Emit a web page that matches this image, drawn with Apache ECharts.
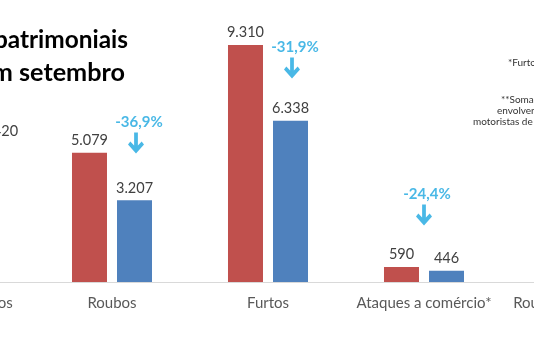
<!DOCTYPE html>
<html>
<head>
<meta charset="utf-8">
<script src="https://cdn.jsdelivr.net/npm/echarts@6/dist/echarts.min.js"></script>
<style>
  html, body { margin: 0; padding: 0; background: #fff; overflow: hidden; width: 534px; height: 352px; position: relative; }
  /* the picture is a crop of a wider chart: the canvas runs past both edges */
  #chart { position: absolute; left: -122px; top: 0; width: 780px; height: 352px; }
</style>
</head>
<body>
<div id="chart"></div>
<script>
// categories (first and last are cut by the picture edge)
const categories = ["Roubos de carros", "Roubos", "Furtos", "Ataques a comércio*", "Roubos a motoristas"];
const setembroAnterior = [8590, 5079, 9310, 590, 310];
const setembroAtual = [5420, 3207, 6338, 446, 220];

// arrows with the drop
const quedaCategorias = ["Roubos", "Furtos", "Ataques a comércio*"];
const quedaTextos = ["-36,9%", "-31,9%", "-24,4%"];
const quedaNiveis = [5460, 8405, 2632];
const quedaDeslocamento = [24, 24, 0];

const chart = echarts.init(document.getElementById("chart"));

const fmt = (v) => String(v).replace(/\B(?=(\d{3})+(?!\d))/g, ".");
const arrowPath = "path://M6.5,0 L10.5,0 L10.5,13 L14.5,9 L17,12 L8.5,21 L0,12 L2.5,9 L6.5,13 Z";
const cyan = "#1BA6E0";
const dx = 122; // canvas offset

const option = {
  backgroundColor: "#fff",
  textStyle: { fontFamily: "Lato" },
  grid: { left: 0, right: 0, top: 27.4, bottom: 70 },
  xAxis: {
    type: "category",
    data: categories,
    axisLine: { lineStyle: { color: "#D9D9D9", width: 1 } },
    axisTick: { show: false },
    axisLabel: { color: "#595959", fontSize: 15, margin: 14, interval: 0, fontFamily: "Lato" },
  },
  yAxis: { type: "value", min: 0, max: 10000, show: false, splitLine: { show: false } },
  series: [
    {
      name: "set/2018",
      type: "bar",
      barWidth: 35,
      barGap: "28.6%",
      itemStyle: { color: "#C0504D" },
      label: { show: true, position: "top", distance: 5, color: "#404040", fontSize: 14.5, formatter: (p) => fmt(p.value) },
      data: setembroAnterior,
    },
    {
      name: "set/2019",
      type: "bar",
      barWidth: 35,
      itemStyle: { color: "#4F81BD" },
      label: { show: true, position: "top", distance: 5, color: "#404040", fontSize: 14.5, formatter: (p) => fmt(p.value) },
      // first label sits a bit to the right in the original
      data: setembroAtual.map((v, i) => (i === 0 ? { value: v, label: { offset: [21, 0] } } : v)),
    },
    {
      type: "scatter",
      silent: true,
      z: 5,
      symbol: arrowPath,
      symbolSize: [16, 21],
      itemStyle: { color: cyan },
      label: {
        show: true,
        position: "top",
        distance: 3,
        offset: [3, 0],
        color: cyan,
        fontSize: 15,
        fontWeight: "bold",
        formatter: (p) => quedaTextos[p.dataIndex],
      },
      data: quedaCategorias.map((c, i) => ({
        value: [c, quedaNiveis[i]],
        symbolOffset: [quedaDeslocamento[i], 0],
      })),
    },
  ],
  graphic: [
    { type: "text", x: dx + 128, y: 40, style: { text: "Crimes patrimoniais", textAlign: "right", textVerticalAlign: "middle", font: "bold 24.4px Lato", fill: "#000" } },
    { type: "text", x: dx + 125, y: 73, style: { text: "caem em setembro", textAlign: "right", textVerticalAlign: "middle", font: "bold 25.2px Lato", fill: "#000" } },
    { type: "text", x: dx + 508, y: 63, style: { text: "*Furtos e roubos a estabelecimentos", textVerticalAlign: "middle", font: "10px Lato", fill: "#333" } },
    { type: "text", x: dx + 501, y: 100, style: { text: "**Soma de roubos", textVerticalAlign: "middle", font: "10px Lato", fill: "#333" } },
    { type: "text", x: dx + 497, y: 111, style: { text: "envolvendo", textVerticalAlign: "middle", font: "10px Lato", fill: "#333" } },
    { type: "text", x: dx + 473, y: 121.5, style: { text: "motoristas de aplicativo", textVerticalAlign: "middle", font: "10px Lato", fill: "#333" } },
  ],
};

chart.setOption(option);
</script>
</body>
</html>
